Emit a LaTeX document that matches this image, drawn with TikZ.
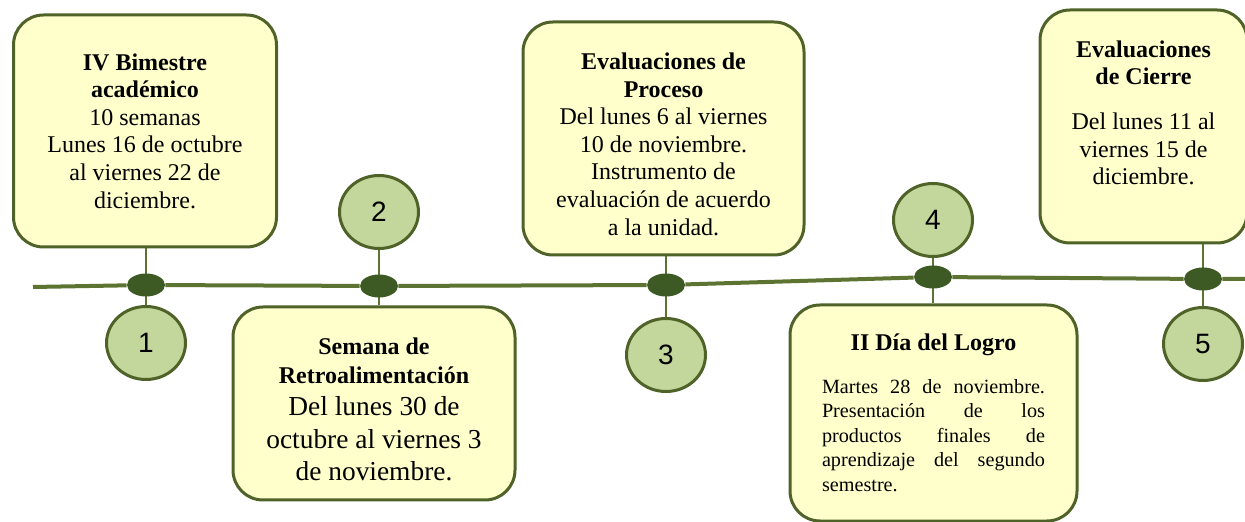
\documentclass[tikz,border=0pt]{standalone}
\usepackage{fontspec}
\setmainfont{Liberation Serif}
\newfontfamily\numfont{Liberation Sans}
\usepackage{xcolor}
\usetikzlibrary{shapes.geometric, backgrounds}

\definecolor{boxfill}{HTML}{FFFFCC}
\definecolor{boxline}{HTML}{4F6228}
\definecolor{circfill}{HTML}{C3D69B}
\definecolor{jointfill}{HTML}{3D5A24}
\definecolor{tlgreen}{HTML}{5C7331}

\begin{document}
\begin{tikzpicture}[
    x=0.5pt, y=-0.5pt,
    event/.style={rectangle, rounded corners=15pt, draw=boxline, fill=boxfill, line width=1.5pt, align=center, inner sep=2pt, font=\fontsize{12}{13.8}\selectfont},
    num/.style={ellipse, draw=boxline, fill=circfill, line width=1.5pt, minimum width=39.5pt, minimum height=36.5pt, inner sep=0pt, font=\numfont\fontsize{14}{16}\selectfont},
    joint/.style={ellipse, fill=jointfill, minimum width=19pt, minimum height=11.5pt, inner sep=0pt},
    timeline/.style={draw=tlgreen, line width=2pt},
    stemline/.style={draw=tlgreen, line width=1.2pt}
]
\useasboundingbox (0,0) rectangle (1245,522);

% Event 1
\node[event, minimum width=131.5pt, minimum height=116pt] (b1) at (145,131) {
    \textbf{IV Bimestre}\\
    \textbf{académico}\\
    10 semanas\\
    Lunes 16 de octubre\\
    al viernes 22 de\\
    diciembre.
};
\node[joint] (d1) at (146,285) {};
\node[num] (c1) at (146,343) {1};

% Event 2
\node[num] (c2) at (379,212) {2};
\node[joint] (d2) at (379,286) {};
\node[event, minimum width=141pt, minimum height=96.5pt, font=\fontsize{13.7}{16.2}\selectfont] (b2) at (374,403.5) {
    {\fontsize{12}{15}\selectfont\bfseries \rule{0pt}{14pt}Semana de}\\[-1.5pt]
    {\fontsize{12}{15}\selectfont\bfseries Retroalimentación}\\
    Del lunes 30 de\\
    octubre al viernes 3\\
    de noviembre.
};

% Event 3
\node[event, minimum width=140.5pt, minimum height=116.5pt] (b3) at (663.5,138.5) {
    \rule{0pt}{14pt}\textbf{Evaluaciones de}\\
    \textbf{Proceso}\\
    Del lunes 6 al viernes\\
    10 de noviembre.\\
    Instrumento de\\
    evaluación de acuerdo\\
    a la unidad.
};
\node[joint] (d3) at (666,285) {};
\node[num] (c3) at (666,355) {3};

% Event 4
\node[num] (c4) at (933,220) {4};
\node[joint] (d4) at (933,277) {};
\node[event, minimum width=143.5pt, minimum height=108pt, text width=111.5pt, align=justify] (b4) at (933.5,413) {
    {\centering\bfseries II Día del Logro\par}
    \vspace{9pt}
    {\fontsize{10.1}{12.25}\selectfont
    Martes 28 de noviembre.\linebreak
    Presentación de los\linebreak
    productos finales de\linebreak
    aprendizaje del segundo\linebreak
    semestre.\par}
};

% Event 5
\node[event, minimum width=103.5pt, minimum height=116.5pt] (b5) at (1143.5,126.5) {
    \textbf{Evaluaciones}\\
    \textbf{de Cierre}\\[8.5pt]
    Del lunes 11 al\\
    viernes 15 de\\
    diciembre.\\
    \mbox{}
};
\node[joint] (d5) at (1203,279) {};
\node[num] (c5) at (1203,344) {5};

% Lines
\coordinate (tl-start) at (33,287);
\coordinate (tl-end) at (1245,279);
\begin{scope}[on background layer]
\draw[timeline] (tl-start) -- (d1) -- (d2) -- (d3) -- (d4) -- (d5) -- (tl-end);
\draw[stemline] (c1) -- (c1 |- b1.south);
\draw[stemline] (c2) -- (c2 |- b2.north);
\draw[stemline] (c3) -- (c3 |- b3.south);
\draw[stemline] (c4) -- (c4 |- b4.north);
\draw[stemline] (c5) -- (c5 |- b5.south);
\end{scope}

\end{tikzpicture}
\end{document}
